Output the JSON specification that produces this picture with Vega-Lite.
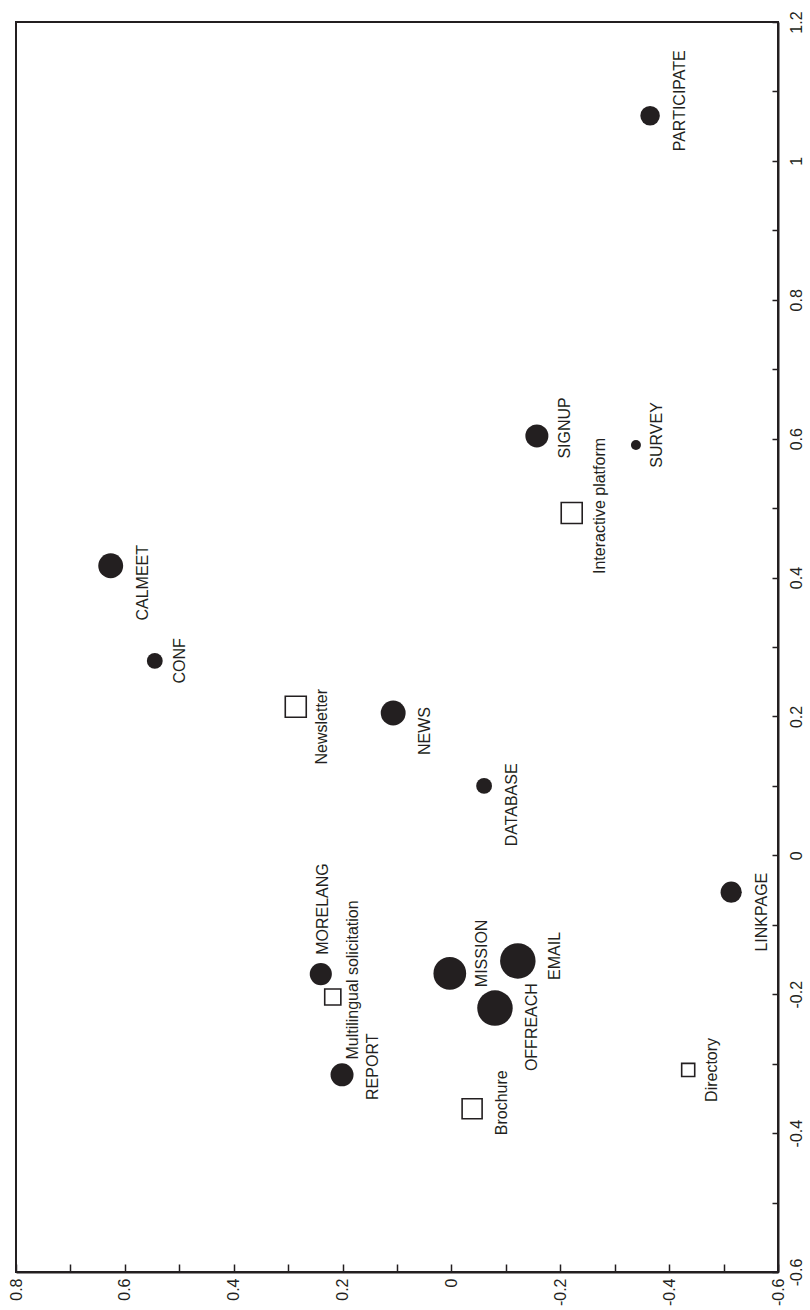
{
  "$schema": "https://vega.github.io/schema/vega-lite/v6.json",
  "width": 762,
  "height": 1250,
  "autosize": {"type": "none"},
  "padding": {"left": 16, "top": 22, "right": 32, "bottom": 38},
  "background": "white",
  "config": {"view": {"stroke": "#231f20", "strokeWidth": 2}, "font": "Liberation Sans"},
  "data": {"values": [
    {"name": "PARTICIPATE", "kind": "circle", "dim1": -0.365, "dim2": 1.065, "freq": 38},
    {"name": "SURVEY", "kind": "circle", "dim1": -0.339, "dim2": 0.591, "freq": 10},
    {"name": "SIGNUP", "kind": "circle", "dim1": -0.157, "dim2": 0.604, "freq": 53},
    {"name": "Interactive platform", "kind": "square", "dim1": -0.221, "dim2": 0.493, "freq": 44},
    {"name": "CALMEET", "kind": "circle", "dim1": 0.626, "dim2": 0.417, "freq": 62},
    {"name": "CONF", "kind": "circle", "dim1": 0.545, "dim2": 0.280, "freq": 25},
    {"name": "Newsletter", "kind": "square", "dim1": 0.286, "dim2": 0.214, "freq": 44},
    {"name": "NEWS", "kind": "circle", "dim1": 0.107, "dim2": 0.205, "freq": 62},
    {"name": "DATABASE", "kind": "circle", "dim1": -0.060, "dim2": 0.100, "freq": 25},
    {"name": "LINKPAGE", "kind": "circle", "dim1": -0.514, "dim2": -0.053, "freq": 45},
    {"name": "MORELANG", "kind": "circle", "dim1": 0.240, "dim2": -0.171, "freq": 49},
    {"name": "Multilingual solicitation", "kind": "square", "dim1": 0.218, "dim2": -0.204, "freq": 26},
    {"name": "REPORT", "kind": "circle", "dim1": 0.201, "dim2": -0.316, "freq": 53},
    {"name": "MISSION", "kind": "circle", "dim1": 0.003, "dim2": -0.170, "freq": 107},
    {"name": "EMAIL", "kind": "circle", "dim1": -0.122, "dim2": -0.152, "freq": 126},
    {"name": "OFFREACH", "kind": "circle", "dim1": -0.080, "dim2": -0.220, "freq": 126},
    {"name": "Brochure", "kind": "square", "dim1": -0.038, "dim2": -0.365, "freq": 40},
    {"name": "Directory", "kind": "square", "dim1": -0.435, "dim2": -0.309, "freq": 17}
  ]},
  "encoding": {
    "x": {"field": "dim1", "type": "quantitative",
      "scale": {"domain": [-0.6, 0.8], "reverse": true, "nice": false, "zero": false},
      "axis": {"title": null, "orient": "bottom", "grid": false,
        "values": [-0.6, -0.5, -0.4, -0.3, -0.2, -0.1, 0, 0.1, 0.2, 0.3, 0.4, 0.5, 0.6, 0.7, 0.8],
        "labelExpr": "abs(round(datum.value*10)) % 2 == 1 ? '' : toString(datum.value)",
        "domainColor": "#231f20", "domainWidth": 2, "tickColor": "#231f20", "tickWidth": 1.5, "tickSize": -8,
        "labelAngle": 270, "labelAlign": "right", "labelBaseline": "middle", "labelPadding": 14,
        "labelFontSize": 16, "labelColor": "#231f20", "labelFont": "Liberation Sans",
        "labelOverlap": false, "labelFlush": false, "labelBound": false}},
    "y": {"field": "dim2", "type": "quantitative",
      "scale": {"domain": [-0.6, 1.2], "nice": false, "zero": false},
      "axis": {"title": null, "orient": "right", "grid": false,
        "values": [-0.6, -0.5, -0.4, -0.3, -0.2, -0.1, 0, 0.1, 0.2, 0.3, 0.4, 0.5, 0.6, 0.7, 0.8, 0.9, 1, 1.1, 1.2],
        "labelExpr": "abs(round(datum.value*10)) % 2 == 1 ? '' : toString(datum.value)",
        "domainColor": "#231f20", "domainWidth": 2, "tickColor": "#231f20", "tickWidth": 1.5, "tickSize": -6,
        "labelAngle": 270, "labelAlign": "center", "labelBaseline": "top", "labelPadding": 16,
        "labelFontSize": 16, "labelColor": "#231f20", "labelFont": "Liberation Sans",
        "labelOverlap": false, "labelFlush": false, "labelBound": false}}
  },
  "layer": [
    {"transform": [{"filter": "datum.kind === 'square'"}],
      "mark": {"type": "point", "shape": "square", "filled": false, "stroke": "#231f20", "strokeWidth": 1.6, "opacity": 1},
      "encoding": {"size": {"field": "freq", "type": "quantitative", "scale": {"domain": [0, 130], "range": [0, 1300], "zero": true}, "legend": null}}},
    {"transform": [{"filter": "datum.kind === 'circle'"}],
      "mark": {"type": "point", "shape": "circle", "filled": true, "color": "#231f20", "opacity": 1},
      "encoding": {"size": {"field": "freq", "type": "quantitative", "legend": null}}},
    {"transform": [{"filter": "datum.name === 'PARTICIPATE'"}], "mark": {"type": "text", "angle": 270, "align": "center", "baseline": "middle", "dx": 15, "dy": 30, "fontSize": 16, "color": "#231f20"}, "encoding": {"text": {"field": "name"}}},
    {"transform": [{"filter": "datum.name === 'SURVEY'"}], "mark": {"type": "text", "angle": 270, "align": "center", "baseline": "middle", "dx": 10, "dy": 21, "fontSize": 16, "color": "#231f20"}, "encoding": {"text": {"field": "name"}}},
    {"transform": [{"filter": "datum.name === 'SIGNUP'"}], "mark": {"type": "text", "angle": 270, "align": "center", "baseline": "middle", "dx": 8, "dy": 28, "fontSize": 16, "color": "#231f20"}, "encoding": {"text": {"field": "name"}}},
    {"transform": [{"filter": "datum.name === 'Interactive platform'"}], "mark": {"type": "text", "angle": 270, "align": "center", "baseline": "middle", "dx": 7, "dy": 28, "fontSize": 16, "color": "#231f20"}, "encoding": {"text": {"field": "name"}}},
    {"transform": [{"filter": "datum.name === 'CALMEET'"}], "mark": {"type": "text", "angle": 270, "align": "center", "baseline": "middle", "dx": -17, "dy": 32, "fontSize": 16, "color": "#231f20"}, "encoding": {"text": {"field": "name"}}},
    {"transform": [{"filter": "datum.name === 'CONF'"}], "mark": {"type": "text", "angle": 270, "align": "center", "baseline": "middle", "dx": 0, "dy": 25, "fontSize": 16, "color": "#231f20"}, "encoding": {"text": {"field": "name"}}},
    {"transform": [{"filter": "datum.name === 'Newsletter'"}], "mark": {"type": "text", "angle": 270, "align": "center", "baseline": "middle", "dx": -20, "dy": 26, "fontSize": 16, "color": "#231f20"}, "encoding": {"text": {"field": "name"}}},
    {"transform": [{"filter": "datum.name === 'NEWS'"}], "mark": {"type": "text", "angle": 270, "align": "center", "baseline": "middle", "dx": -18, "dy": 32, "fontSize": 16, "color": "#231f20"}, "encoding": {"text": {"field": "name"}}},
    {"transform": [{"filter": "datum.name === 'DATABASE'"}], "mark": {"type": "text", "angle": 270, "align": "center", "baseline": "middle", "dx": -19, "dy": 28, "fontSize": 16, "color": "#231f20"}, "encoding": {"text": {"field": "name"}}},
    {"transform": [{"filter": "datum.name === 'LINKPAGE'"}], "mark": {"type": "text", "angle": 270, "align": "center", "baseline": "middle", "dx": -20, "dy": 31, "fontSize": 16, "color": "#231f20"}, "encoding": {"text": {"field": "name"}}},
    {"transform": [{"filter": "datum.name === 'MORELANG'"}], "mark": {"type": "text", "angle": 270, "align": "center", "baseline": "middle", "dx": 65, "dy": 2, "fontSize": 16, "color": "#231f20"}, "encoding": {"text": {"field": "name"}}},
    {"transform": [{"filter": "datum.name === 'Multilingual solicitation'"}], "mark": {"type": "text", "angle": 270, "align": "center", "baseline": "middle", "dx": 17, "dy": 20, "fontSize": 16, "color": "#231f20"}, "encoding": {"text": {"field": "name"}}},
    {"transform": [{"filter": "datum.name === 'REPORT'"}], "mark": {"type": "text", "angle": 270, "align": "center", "baseline": "middle", "dx": 8, "dy": 31, "fontSize": 16, "color": "#231f20"}, "encoding": {"text": {"field": "name"}}},
    {"transform": [{"filter": "datum.name === 'MISSION'"}], "mark": {"type": "text", "angle": 270, "align": "center", "baseline": "middle", "dx": 20, "dy": 32, "fontSize": 16, "color": "#231f20"}, "encoding": {"text": {"field": "name"}}},
    {"transform": [{"filter": "datum.name === 'EMAIL'"}], "mark": {"type": "text", "angle": 270, "align": "center", "baseline": "middle", "dx": 5, "dy": 37, "fontSize": 16, "color": "#231f20"}, "encoding": {"text": {"field": "name"}}},
    {"transform": [{"filter": "datum.name === 'OFFREACH'"}], "mark": {"type": "text", "angle": 270, "align": "center", "baseline": "middle", "dx": -19, "dy": 37, "fontSize": 16, "color": "#231f20"}, "encoding": {"text": {"field": "name"}}},
    {"transform": [{"filter": "datum.name === 'Brochure'"}], "mark": {"type": "text", "angle": 270, "align": "center", "baseline": "middle", "dx": 6, "dy": 30, "fontSize": 16, "color": "#231f20"}, "encoding": {"text": {"field": "name"}}},
    {"transform": [{"filter": "datum.name === 'Directory'"}], "mark": {"type": "text", "angle": 270, "align": "center", "baseline": "middle", "dx": 0, "dy": 24, "fontSize": 16, "color": "#231f20"}, "encoding": {"text": {"field": "name"}}}
  ]
}
